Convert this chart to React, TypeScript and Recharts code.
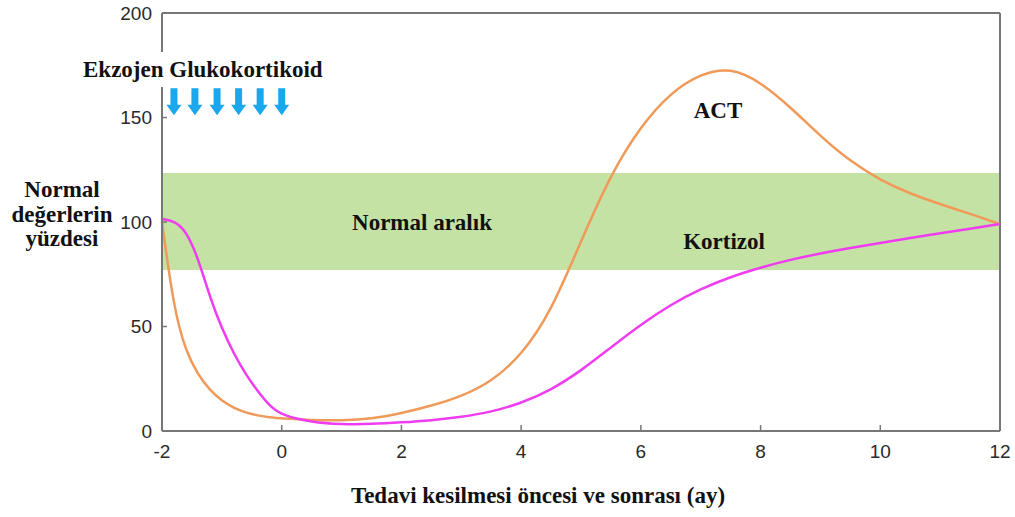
import React from "react";
import {
  ComposedChart, Line, Scatter, XAxis, YAxis, ReferenceArea, ReferenceLine,
} from "recharts";

// months before / after stopping treatment
const months = [-2, -1.8, -1.6, -1.4, -1.2, -1, -0.8, -0.6, -0.4, -0.2, 0, 0.5, 1, 1.5, 2, 2.5, 3, 3.5, 4, 4.5, 5, 5.5, 6, 6.5, 7, 7.5, 8, 8.5, 9, 9.5, 10, 10.5, 11, 11.5, 12];
const actValues = [100, 58, 38, 27, 19.5, 14.5, 11, 8.8, 7.4, 6.5, 6, 5.2, 5, 5.8, 8.5, 12, 16.5, 23.5, 36, 57, 91, 123, 146, 162, 171, 174, 167, 155, 141, 129, 120, 113.5, 108.5, 104, 99];
const kortizolValues = [101.5, 100.5, 96, 83, 64, 49, 37, 27, 19, 12, 7.5, 4.2, 3.2, 3.3, 4.1, 5.1, 6.7, 9.1, 13.3, 19.6, 28.8, 40, 51, 60.5, 68, 73.8, 78.2, 82, 85, 87.6, 90, 92.4, 94.6, 96.8, 99];

// glucocorticoid dose arrows
const doseMonths = [-1.8, -1.45, -1.08, -0.72, -0.36, 0];
const doseLevel = 157.5;

const normalLow = 77;
const normalHigh = 123.5;

const xTicks = [-2, 0, 2, 4, 6, 8, 10, 12];
const yTicks = [0, 50, 100, 150, 200];

const rows = months.map((m, i) => ({ m, act: actValues[i], kort: kortizolValues[i] }));
const arrows = doseMonths.map((m) => ({ m, v: doseLevel }));

const serif = "'Liberation Serif', 'Times New Roman', serif";
const sans = "'Liberation Sans', Arial, sans-serif";

const Arrow = (props: any) => {
  const { cx, cy } = props;
  return (
    <path
      d={`M${cx - 3.5},${cy - 13.5} L${cx + 3.5},${cy - 13.5} L${cx + 3.5},${cy + 3} L${cx + 7.5},${cy + 3} L${cx},${cy + 13.5} L${cx - 7.5},${cy + 3} L${cx - 3.5},${cy + 3} Z`}
      fill="#1aa7ec"
    />
  );
};

export default function App() {
  const tickStyle = { fill: "#2a2a2a", fontSize: 19, fontFamily: sans };
  return (
    <div style={{ position: "absolute", left: 0, top: 0, width: 1015, height: 517, background: "#fff" }}>
      <ComposedChart width={1015} height={517} data={rows} margin={{ top: 13, right: 15, left: 102, bottom: 56 }}>
        <ReferenceArea y1={normalLow} y2={normalHigh} fill="#c5e2a5" fillOpacity={1} stroke="none" />
        <XAxis
          dataKey="m"
          type="number"
          domain={[-2, 12]}
          ticks={xTicks}
          height={30}
          tick={tickStyle}
          tickSize={-6}
          tickMargin={20}
          tickLine={{ stroke: "#777", strokeWidth: 1.5 }}
          axisLine={{ stroke: "#777", strokeWidth: 2 }}
        />
        <YAxis
          type="number"
          domain={[0, 200]}
          ticks={yTicks}
          width={60}
          tick={tickStyle}
          tickSize={-5}
          tickMargin={15}
          tickLine={{ stroke: "#777", strokeWidth: 1.5 }}
          axisLine={{ stroke: "#777", strokeWidth: 2 }}
        />
        <ReferenceLine y={200} stroke="#777" strokeWidth={2} />
        <ReferenceLine x={12} stroke="#777" strokeWidth={2} />
        <Line type="basis" dataKey="act" stroke="#f09a5a" strokeWidth={2.5} dot={false} isAnimationActive={false} />
        <Line type="basis" dataKey="kort" stroke="#f03cf0" strokeWidth={2.5} dot={false} isAnimationActive={false} />
        <Scatter data={arrows} dataKey="v" shape={Arrow} isAnimationActive={false} />
      </ComposedChart>
      <svg width={1015} height={517} style={{ position: "absolute", left: 0, top: 0, pointerEvents: "none" }}>
        <rect x={80} y={52} width={252} height={35} fill="#fff" />
        <g fontFamily={serif} fontWeight="bold" fontSize={23} fill="#111">
          <text x={83} y={77}>Ekzojen Glukokortikoid</text>
          <text x={62} y={197} textAnchor="middle">Normal</text>
          <text x={62} y={222} textAnchor="middle">değerlerin</text>
          <text x={62} y={246} textAnchor="middle">yüzdesi</text>
          <text x={422} y={230} textAnchor="middle">Normal aralık</text>
          <text x={718} y={118} textAnchor="middle">ACT</text>
          <text x={724} y={249} textAnchor="middle">Kortizol</text>
          <text x={538} y={503} textAnchor="middle">Tedavi kesilmesi öncesi ve sonrası (ay)</text>
        </g>
      </svg>
    </div>
  );
}
